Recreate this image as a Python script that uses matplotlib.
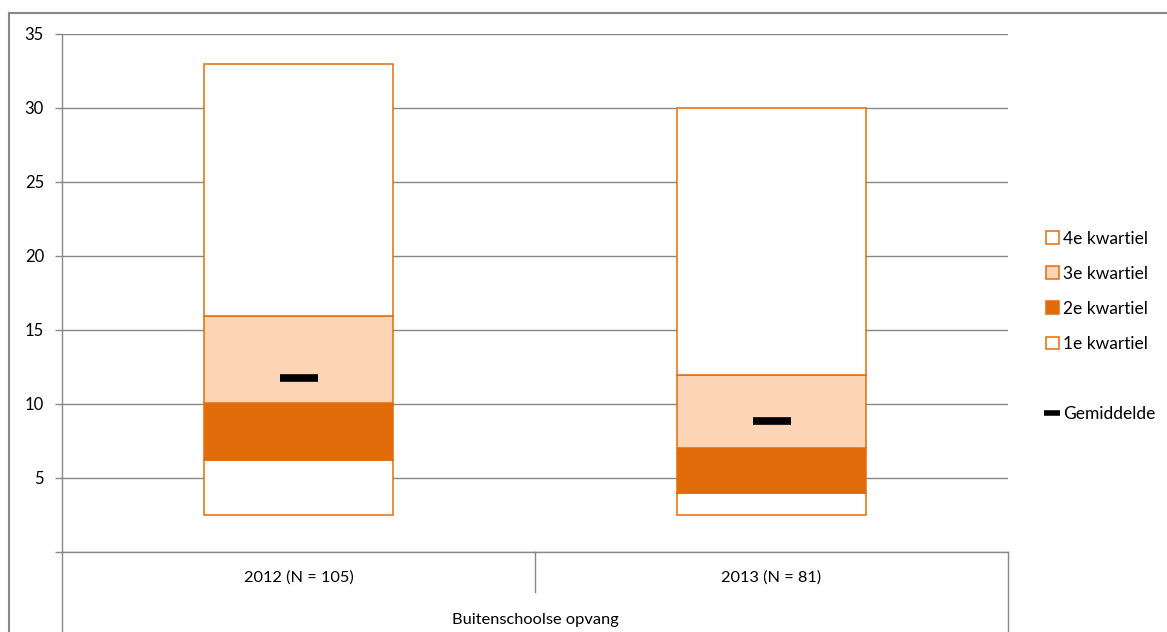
import matplotlib.pyplot as plt
from matplotlib.patches import Patch
from matplotlib.lines import Line2D

plt.rcParams['font.family'] = ['Lato', 'DejaVu Sans']

# gegevens
categorieen = ['2012 (N = 105)', '2013 (N = 81)']
groep = 'Buitenschoolse opvang'
minimum = [2.5, 2.5]
kwartiel1 = [6.2, 4.0]
mediaan = [10.05, 7.05]
kwartiel3 = [15.95, 11.95]
maximum = [33.0, 30.0]
gemiddelde = [11.75, 8.85]

oranje = '#E36C0A'
licht = '#FBD5B5'
grijs = '#888888'

fig = plt.figure(figsize=(11.67, 6.32), dpi=100)
ax = fig.add_axes([62 / 1167, 1 - 552 / 632, (1008 - 62) / 1167, (552 - 34) / 632])

x = list(range(len(categorieen)))
breedte = 0.4
lw = 1.1

# gestapelde kolommen: onzichtbaar tot minimum, daarna de kwartielen
h1 = [b - a for a, b in zip(minimum, kwartiel1)]
h2 = [b - a for a, b in zip(kwartiel1, mediaan)]
h3 = [b - a for a, b in zip(mediaan, kwartiel3)]
h4 = [b - a for a, b in zip(kwartiel3, maximum)]
ax.bar(x, h1, breedte, bottom=minimum, facecolor='white', edgecolor=oranje, lw=lw, zorder=3)
ax.bar(x, h2, breedte, bottom=kwartiel1, facecolor=oranje, edgecolor=oranje, lw=lw, zorder=3)
ax.bar(x, h3, breedte, bottom=mediaan, facecolor=licht, edgecolor=oranje, lw=lw, zorder=3)
ax.bar(x, h4, breedte, bottom=kwartiel3, facecolor='white', edgecolor=oranje, lw=lw, zorder=3)
ax.plot(x, gemiddelde, ls='none', marker='_', ms=27, mew=5.5, color='black', zorder=4)

ax.set_xlim(-0.5, 1.5)
ax.set_ylim(0, 35)
ax.set_yticks(range(0, 36, 5))
ax.set_yticklabels([''] + [str(v) for v in range(5, 36, 5)])
ax.set_xticks([])
ax.yaxis.grid(True, color=grijs, lw=1.0, zorder=0)
ax.tick_params(axis='y', colors=grijs, length=5, width=1.0, labelsize=12, labelcolor='black', pad=8)
for s in ['top', 'right']:
    ax.spines[s].set_visible(False)
for s in ['left', 'bottom']:
    ax.spines[s].set_color(grijs)
    ax.spines[s].set_linewidth(1.0)

# categorie-as met twee niveaus
dy1 = (552 - 592) / 518
dy2 = (552 - 632) / 518
for xa, yb in [(0, dy2), (0.5, dy1), (1, dy2)]:
    ax.add_line(Line2D([xa, xa], [0, yb], transform=ax.transAxes, color=grijs, lw=1.0, clip_on=False))
for i, c in enumerate(categorieen):
    ax.text((i + 0.5) / 2, (552 - 578) / 518, c, transform=ax.transAxes,
            ha='center', va='center', fontsize=11.8)
ax.text(0.5, (552 - 620) / 518, groep, transform=ax.transAxes, ha='center', va='center', fontsize=11.8)

# legenda
handles = [
    Patch(facecolor='white', edgecolor=oranje, lw=lw),
    Patch(facecolor=licht, edgecolor=oranje, lw=lw),
    Patch(facecolor=oranje, edgecolor=oranje, lw=lw),
    Patch(facecolor='white', edgecolor=oranje, lw=lw),
    Patch(facecolor='none', edgecolor='none'),
    Line2D([], [], ls='none', marker='_', ms=11, mew=4, color='black'),
]
labels = ['4e kwartiel', '3e kwartiel', '2e kwartiel', '1e kwartiel', '', 'Gemiddelde']
fig.legend(handles, labels, loc='upper left', bbox_to_anchor=(1037 / 1167, 1 - 222 / 632),
           frameon=False, fontsize=12.5, handlelength=0.75, handleheight=0.75,
           handletextpad=0.25, labelspacing=1.1, borderpad=0)

# rand van het kader
fig.add_artist(Line2D([9 / 1167, 1], [1 - 13 / 632] * 2, transform=fig.transFigure, color=grijs, lw=1.5))
fig.add_artist(Line2D([9 / 1167] * 2, [0, 1 - 13 / 632], transform=fig.transFigure, color=grijs, lw=1.5))

fig.savefig('out.png', dpi=100)
